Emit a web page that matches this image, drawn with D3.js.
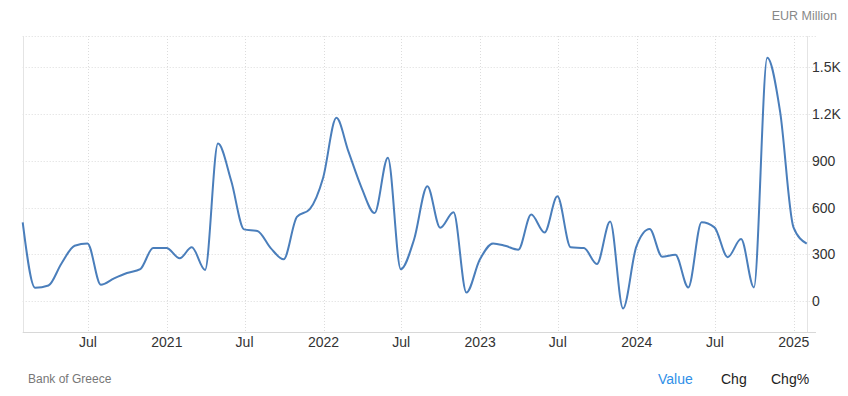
<!DOCTYPE html>
<html>
<head>
<meta charset="utf-8">
<script src="https://cdn.jsdelivr.net/npm/d3@7"></script>
<style>
  body { margin: 0; background: #fff; font-family: "Liberation Sans", Arial, sans-serif; }
  svg { display: block; }
</style>
</head>
<body>
<div id="chart"></div>
<script>
// monthly values, end of month, Jan 2020 .. Jan 2025 (EUR Million)
const startMonth = "2020-01-31";
const values = [
  505, 85, 100, 240, 355, 370, 105, 146, 180, 205, 340, 340,
  275, 345, 200, 1010, 770, 460, 450, 340, 268, 540, 590, 790,
  1175, 960, 725, 565, 920, 205, 395, 737, 470, 570, 55, 265,
  370, 355, 330, 555, 440, 672, 345, 340, 238, 510, -47, 350,
  462, 285, 297, 88, 505, 473, 282, 398, 88, 1560, 1215, 475,
  368
];
const yTicks = [0, 300, 600, 900, 1200, 1500];
const yTickLabels = ["0", "300", "600", "900", "1.2K", "1.5K"];
const xTickDates = ["2020-07-01", "2021-01-01", "2021-07-01", "2022-01-01", "2022-07-01",
                    "2023-01-01", "2023-07-01", "2024-01-01", "2024-07-01", "2025-01-01"];
const xTickLabels = ["Jul", "2021", "Jul", "2022", "Jul", "2023", "Jul", "2024", "Jul", "2025"];
const unitLabel = "EUR Million";
const sourceLabel = "Bank of Greece";
const tabs = ["Value", "Chg", "Chg%"];

const width = 848, height = 396;
const plot = { left: 22.7, right: 806.7, top: 36, bottom: 332.3 };

// end-of-month dates
const parse = d3.timeParse("%Y-%m-%d");
const start = parse(startMonth);
const data = values.map((v, i) => {
  const d = d3.timeMonth.offset(new Date(start.getFullYear(), start.getMonth(), 1), i + 1);
  return { date: d3.timeDay.offset(d, -1), value: v };
});

const x = d3.scaleTime()
  .domain(d3.extent(data, d => d.date))
  .range([plot.left, plot.right]);

const y = d3.scaleLinear()
  .domain([-200, 1700])
  .range([plot.bottom, plot.top]);

const svg = d3.select("#chart").append("svg")
  .attr("width", width)
  .attr("height", height);

// horizontal grid
svg.append("g")
  .selectAll("line")
  .data(yTicks.concat([1700]))
  .join("line")
  .attr("x1", plot.left)
  .attr("x2", 816)
  .attr("y1", d => Math.round(y(d)) + 0.5)
  .attr("y2", d => Math.round(y(d)) + 0.5)
  .attr("stroke", "#dcdcdc")
  .attr("stroke-dasharray", "1,2");

// vertical grid
svg.append("g")
  .selectAll("line")
  .data(xTickDates.map(parse))
  .join("line")
  .attr("x1", d => Math.round(x(d)) + 0.5)
  .attr("x2", d => Math.round(x(d)) + 0.5)
  .attr("y1", plot.top)
  .attr("y2", plot.bottom)
  .attr("stroke", "#dcdcdc")
  .attr("stroke-dasharray", "1,2");

// borders
svg.append("line")
  .attr("x1", Math.round(plot.left) + 0.5).attr("x2", Math.round(plot.left) + 0.5)
  .attr("y1", plot.top).attr("y2", plot.bottom)
  .attr("stroke", "#e4e4e4");
svg.append("line")
  .attr("x1", Math.round(plot.right) + 0.5).attr("x2", Math.round(plot.right) + 0.5)
  .attr("y1", plot.top).attr("y2", plot.bottom)
  .attr("stroke", "#e4e4e4");
svg.append("line")
  .attr("x1", plot.left).attr("x2", 816)
  .attr("y1", Math.round(plot.bottom) + 0.5).attr("y2", Math.round(plot.bottom) + 0.5)
  .attr("stroke", "#d8d8d8");

// y axis labels
svg.append("g")
  .selectAll("text")
  .data(yTicks)
  .join("text")
  .attr("x", 812)
  .attr("y", d => y(d) + 5)
  .attr("font-size", 14)
  .attr("fill", "#333")
  .text((d, i) => yTickLabels[i]);

// x axis labels
svg.append("g")
  .selectAll("text")
  .data(xTickDates.map(parse))
  .join("text")
  .attr("x", d => x(d))
  .attr("y", 347)
  .attr("text-anchor", "middle")
  .attr("font-size", 14)
  .attr("fill", "#333")
  .text((d, i) => xTickLabels[i]);

// line
const line = d3.line()
  .x(d => x(d.date))
  .y(d => y(d.value))
  .curve(d3.curveMonotoneX);

svg.append("path")
  .datum(data)
  .attr("fill", "none")
  .attr("stroke", "#4a7ebb")
  .attr("stroke-width", 2)
  .attr("stroke-linejoin", "round")
  .attr("d", line);

// unit label
svg.append("text")
  .attr("x", 837)
  .attr("y", 20)
  .attr("text-anchor", "end")
  .attr("font-size", 12.5)
  .attr("fill", "#888")
  .text(unitLabel);

// source
svg.append("text")
  .attr("x", 28)
  .attr("y", 383)
  .attr("font-size", 12)
  .attr("fill", "#777")
  .text(sourceLabel);

// tabs
const tabX = [658, 721, 771];
svg.append("g")
  .selectAll("text")
  .data(tabs)
  .join("text")
  .attr("x", (d, i) => tabX[i])
  .attr("y", 384)
  .attr("font-size", 14)
  .attr("fill", (d, i) => i === 0 ? "#2f8fe8" : "#222")
  .text(d => d);
</script>
</body>
</html>
